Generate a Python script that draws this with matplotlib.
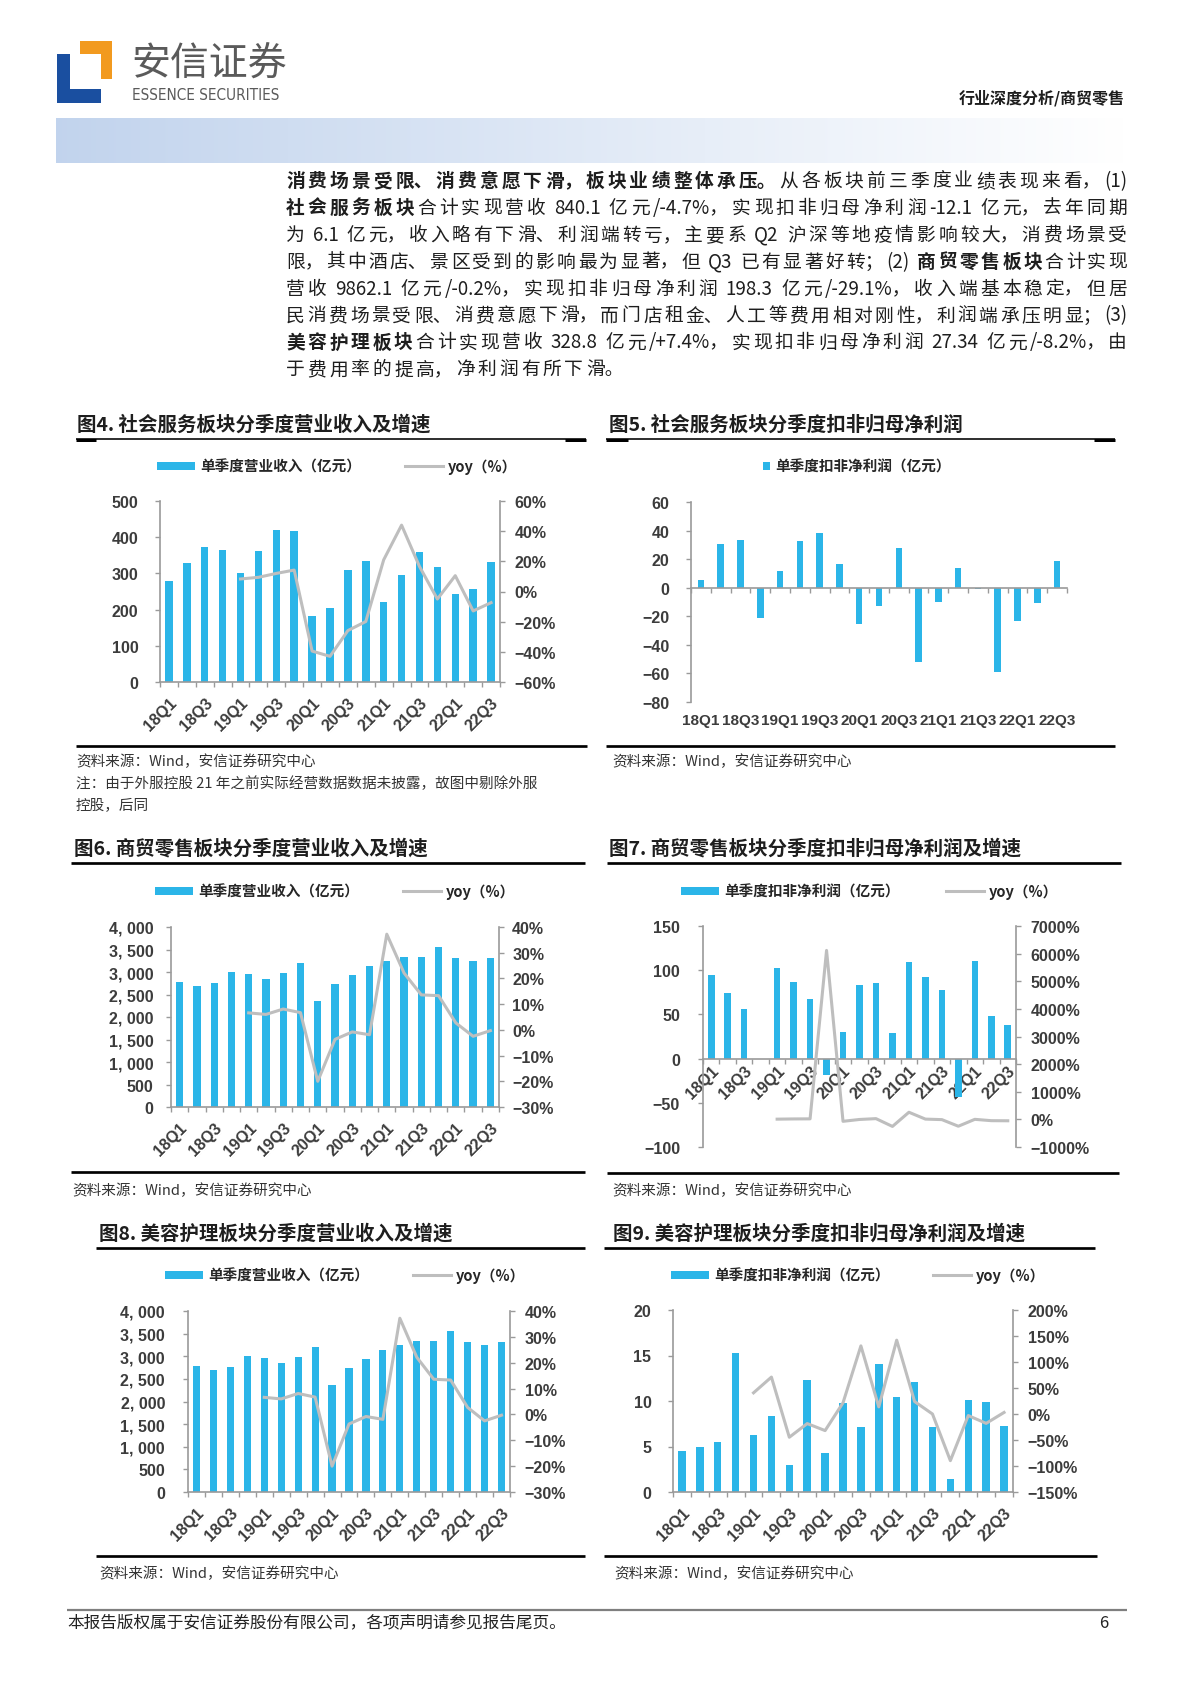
import numpy as np
import matplotlib
matplotlib.use('Agg')
import matplotlib.pyplot as plt
from matplotlib.font_manager import FontProperties
from matplotlib.patches import Polygon

W, H, DPI = 1190, 1683, 100
CJK = ['Noto Sans CJK SC', 'DejaVu Sans']
NUM = ['Liberation Sans', 'DejaVu Sans']
plt.rcParams['font.family'] = CJK
plt.rcParams['axes.unicode_minus'] = True

# ---------------- data ----------------
quarters = ['18Q1', '18Q2', '18Q3', '18Q4', '19Q1', '19Q2', '19Q3', '19Q4',
            '20Q1', '20Q2', '20Q3', '20Q4', '21Q1', '21Q2', '21Q3', '21Q4',
            '22Q1', '22Q2', '22Q3']
nan = np.nan
# Fig4 社会服务 营收 (亿元) and yoy (%)
social_rev = [278, 330, 374, 365, 301, 361, 419, 417, 182, 205, 309, 334,
              221, 296, 359, 317, 243, 257, 332]
social_rev_yoy = [nan, nan, nan, nan, 8.3, 9.4, 12.0, 14.2, -39.5, -43.0, -25.9, -19.9,
                  21.0, 44.0, 16.6, -5.0, 10.5, -12.9, -7.4]
# Fig5 社会服务 扣非净利润 (亿元)
social_np = [5.6, 30.5, 33.3, -21.4, 11.4, 33.0, 38.6, 16.5, -25.1, -12.6, 28.1, -52.1,
             -9.8, 13.7, -0.9, -59.3, -23.3, -10.9, 18.8]
# Fig6 商贸零售 营收
retail_rev = [2778, 2689, 2756, 3007, 2963, 2844, 2978, 3207, 2363, 2733, 2941, 3141,
              3244, 3341, 3333, 3556, 3319, 3252, 3319]
retail_rev_yoy = [nan, nan, nan, nan, 6.6, 6.0, 8.1, 6.7, -20.0, -3.7, -0.8, -1.9,
                  37.2, 22.1, 13.6, 13.3, 2.7, -2.5, -0.3]
# Fig7 商贸零售 扣非净利润
retail_np = [95.0, 74.7, 56.6, 0.0, 102.9, 86.7, 67.5, -18.9, 30.5, 83.7, 85.6, 29.4,
             109.4, 92.0, 78.0, -43.4, 110.9, 48.6, 38.1]
retail_np_yoy = [nan, nan, nan, nan, 8, 16, 19, 6116, -70, -3.5, 27, -255,
                 258, 10, -9, -248, 1.4, -47, -51]
# Fig8 美容护理 营收 (as shown in the source figure)
beauty_rev = [2778, 2689, 2756, 3007, 2963, 2844, 2978, 3207, 2363, 2733, 2941, 3141,
              3244, 3341, 3333, 3556, 3319, 3252, 3319]
beauty_rev_yoy = [nan, nan, nan, nan, 6.6, 6.0, 8.1, 6.7, -20.0, -3.7, -0.8, -1.9,
                  37.2, 22.1, 13.6, 13.3, 2.7, -2.5, -0.3]
# Fig9 美容护理 扣非净利润
beauty_np = [4.5, 4.9, 5.5, 15.3, 6.3, 8.4, 3.0, 12.3, 4.3, 9.8, 7.1, 14.1,
             10.4, 12.1, 7.1, 1.4, 10.1, 9.9, 7.3]
beauty_np_yoy = [nan, nan, nan, nan, 40.7, 71, -44.7, -18.4, -31.9, 21.5, 131, 13.7,
                 142, 24, 0, -89.7, -3, -18, 3]

# ---------------- style ----------------
BAR = '#2BB5E8'
LINE = '#BEBEBE'
GRAY = '#9A9A9A'
TICKC = '#3C3C3C'
TXT = '#1E1E1E'

fig = plt.figure(figsize=(W / DPI, H / DPI), dpi=DPI)
bg = fig.add_axes([0, 0, 1, 1])
bg.axis('off')


def add_ax(l, t, r, b):
    a = fig.add_axes([l / W, 1 - b / H, (r - l) / W, (b - t) / H])
    a.set_facecolor('none')
    return a


numfont = dict(fontfamily=NUM, fontweight='bold', fontsize=11.5, color=TICKC)


def fmt_num(v, thousands=False):
    s = f'{v:,}'.replace(',', ', ') if thousands else f'{v}'
    return s.replace('-', '\u2212')


def fmt_pct(v):
    return f'{v}%'.replace('-', '\u2212')


def base_axes(box, values, ylim, yticks, lpad, thousands=False, zero_spine=False, width=0.42):
    ax = add_ax(*box)
    n = len(quarters)
    x = np.arange(n)
    bars = ax.bar(x, values, width=width, color=BAR, zorder=2)
    ax.set_xlim(-0.5, n - 0.5)
    ax.set_ylim(*ylim)
    ax.set_yticks(yticks, labels=[fmt_num(v, thousands) for v in yticks], **numfont)
    ax.set_xticks(np.arange(-0.5, n, 1.0), minor=True)
    for s in ['top', 'right']:
        ax.spines[s].set_visible(False)
    for s in ['left', 'bottom']:
        ax.spines[s].set_color(GRAY)
        ax.spines[s].set_linewidth(1.2)
    if zero_spine:
        ax.spines['bottom'].set_position(('data', 0))
    ax.tick_params(axis='y', direction='out', length=3.5, width=1, color=GRAY, pad=lpad)
    ax.tick_params(axis='x', which='minor', direction='out', length=3.5, width=1, color=GRAY)
    ax.tick_params(axis='x', which='major', length=0)
    return ax, bars


def rot_labels(ax, pad):
    idx = np.arange(0, len(quarters), 2)
    ax.set_xticks(idx, labels=[quarters[i] for i in idx], rotation=45, ha='right',
                  va='top', rotation_mode='anchor', **numfont)
    ax.tick_params(axis='x', which='major', length=0, pad=pad)


def yoy_axis(ax, vals, ylim, yticks, rpad):
    ax2 = ax.twinx()
    ax2.set_facecolor('none')
    ln, = ax2.plot(np.arange(len(quarters)), vals, color=LINE, lw=2.2, zorder=3)
    ax2.set_ylim(*ylim)
    ax2.set_yticks(yticks, labels=[fmt_pct(v) for v in yticks], **numfont)
    for s in ['top', 'left', 'bottom']:
        ax2.spines[s].set_visible(False)
    ax2.spines['right'].set_color(GRAY)
    ax2.spines['right'].set_linewidth(1.2)
    ax2.tick_params(axis='y', direction='out', length=3.5, width=1, color=GRAY, pad=rpad)
    return ax2, ln


legfont = FontProperties(family=CJK, weight='bold', size=10.5)


def legend(ax, handles, labels, x, y, colsp=3.0, hl=2.6, hh=0.5):
    ax.legend(handles, labels, loc='center left', bbox_to_anchor=(x / W, 1 - y / H),
              bbox_transform=fig.transFigure, ncol=len(handles), frameon=False,
              prop=legfont, handlelength=hl, handleheight=hh, handletextpad=0.35,
              columnspacing=colsp, borderpad=0, borderaxespad=0, labelcolor='#262626')


LAB_REV = '单季度营业收入（亿元）'
LAB_NP = '单季度扣非净利润（亿元）'
LAB_YOY = 'yoy（%）'

# ---------- Fig 4 ----------
ax4, b4 = base_axes((160, 502, 500, 683), social_rev, (0, 500), list(range(0, 501, 100)), 12)
rot_labels(ax4, 9)
ax4b, l4 = yoy_axis(ax4, social_rev_yoy, (-60, 60), list(range(-60, 61, 20)), 7)
legend(ax4, [b4, l4], [LAB_REV, LAB_YOY], 157, 467)

# ---------- Fig 5 ----------
ax5, b5 = base_axes((691, 503, 1067, 703), social_np, (-80, 60), list(range(-80, 61, 20)), 12,
                    zero_spine=True, width=0.33)
ax5.set_xticks([])
sec = ax5.secondary_xaxis('bottom')
idx5 = np.arange(0, len(quarters), 2)
sec.set_ticks(idx5, labels=[quarters[i] for i in idx5], fontfamily=NUM, fontweight='bold',
              fontsize=11, color=TICKC)
sec.tick_params(axis='x', length=0, pad=8)
sec.spines['bottom'].set_visible(False)
legend(ax5, [b5], ['单季度扣非净利润（亿元）'], 763, 467, hl=0.5, hh=0.5)

# ---------- Fig 6 ----------
ax6, b6 = base_axes((171, 928, 499, 1108), retail_rev, (0, 4000), list(range(0, 4001, 500)), 9,
                    thousands=True)
rot_labels(ax6, 9)
ax6b, l6 = yoy_axis(ax6, retail_rev_yoy, (-30, 40), list(range(-30, 41, 10)), 6)
legend(ax6, [b6, l6], [LAB_REV, LAB_YOY], 155, 892)

# ---------- Fig 7 ----------
ax7, b7 = base_axes((703, 927, 1016, 1148), retail_np, (-100, 150), list(range(-100, 151, 50)), 13,
                    zero_spine=True, width=0.4)
rot_labels(ax7, 3)
ax7b, l7 = yoy_axis(ax7, retail_np_yoy, (-1000, 7000), list(range(-1000, 7001, 1000)), 7)
legend(ax7, [b7, l7], [LAB_NP, LAB_YOY], 681, 892, colsp=3.2)

# ---------- Fig 8 ----------
ax8, b8 = base_axes((188, 1312, 510, 1493), beauty_rev, (0, 4000), list(range(0, 4001, 500)), 13,
                    thousands=True)
rot_labels(ax8, 9)
ax8b, l8 = yoy_axis(ax8, beauty_rev_yoy, (-30, 40), list(range(-30, 41, 10)), 7)
legend(ax8, [b8, l8], [LAB_REV, LAB_YOY], 165, 1276)

# ---------- Fig 9 ----------
ax9, b9 = base_axes((673, 1311, 1013, 1493), beauty_np, (0, 20), list(range(0, 21, 5)), 12)
rot_labels(ax9, 9)
ax9b, l9 = yoy_axis(ax9, beauty_np_yoy, (-150, 200), list(range(-150, 201, 50)), 7)
legend(ax9, [b9, l9], [LAB_NP, LAB_YOY], 671, 1276, colsp=3.0)

# ---------------- page decoration ----------------
# gradient band
grad = np.linspace(0, 1, 256)
c0 = np.array([0.76, 0.83, 0.93])
img = (c0[None, None, :] * (1 - grad)[None, :, None] + np.ones(3)[None, None, :] * grad[None, :, None])
bg.imshow(img, extent=[56, 1125, 164, 119], aspect='auto', interpolation='bilinear', zorder=0)

# logo
bg.add_patch(Polygon([(57, 55), (70, 55), (70, 90), (101, 90), (101, 104), (57, 104)],
                     closed=True, color='#1A4FA0', lw=0))
bg.add_patch(Polygon([(80, 42), (112, 42), (112, 80), (101, 80), (101, 55), (80, 55)],
                     closed=True, color='#F29A1F', lw=0))
bg.text(131, 65, '安信证券', fontsize=28, color='#5A5A5A', va='center', ha='left',
        family=CJK)
bg.text(132, 96, 'ESSENCE SECURITIES', fontsize=11, color='#5A5A5A', va='center', ha='left',
        family=['Liberation Sans Narrow', 'DejaVu Sans'], fontstretch='condensed')
bg.text(1125, 98, '行业深度分析/商贸零售', fontsize=11.5, fontweight='bold', color=TXT,
        va='center', ha='right', family=CJK)

# paragraph with justification
para = [
    [('消费场景受限、消费意愿下滑，板块业绩整体承压。', True), ('从各板块前三季度业绩表现来看，(1)', False)],
    [('社会服务板块', True), ('合计实现营收 840.1 亿元/-4.7%，实现扣非归母净利润-12.1 亿元，去年同期', False)],
    [('为 6.1 亿元，收入略有下滑、利润端转亏，主要系 Q2 沪深等地疫情影响较大，消费场景受', False)],
    [('限，其中酒店、景区受到的影响最为显著，但 Q3 已有显著好转；(2) ', False), ('商贸零售板块', True), ('合计实现', False)],
    [('营收 9862.1 亿元/-0.2%，实现扣非归母净利润 198.3 亿元/-29.1%，收入端基本稳定，但居', False)],
    [('民消费场景受限、消费意愿下滑，而门店租金、人工等费用相对刚性，利润端承压明显；(3)', False)],
    [('美容护理板块', True), ('合计实现营收 328.8 亿元/+7.4%，实现扣非归母净利润 27.34 亿元/-8.2%，由', False)],
    [('于费用率的提高，净利润有所下滑。', False)],
]
PUNCT = '，、。；：）'


def tokenize(segs):
    toks = []
    cur = None
    space = False
    for s, b in segs:
        for c in s:
            if c == ' ':
                if cur:
                    toks.append(cur)
                    cur = None
                space = True
            elif c in PUNCT:
                if cur is not None:
                    cur[0] += c
                    toks.append(cur)
                    cur = None
                elif toks:
                    toks[-1][0] += c
                else:
                    toks.append([c, b, space, False])
                    space = False
            elif ord(c) < 128:
                if cur is not None and cur[3] and cur[1] == b:
                    cur[0] += c
                else:
                    if cur:
                        toks.append(cur)
                    cur = [c, b, space, True]
                    space = False
            else:
                if cur:
                    toks.append(cur)
                cur = [c, b, space, False]
                space = False
        if cur:
            toks.append(cur)
            cur = None
    return toks


PSIZE = 13.5
fp_r = FontProperties(family=CJK, size=PSIZE)
fp_b = FontProperties(family=CJK, size=PSIZE, weight='bold')
renderer = fig.canvas.get_renderer()
SPACE_W = 0.28 * PSIZE * DPI / 72
P_LEFT, P_RIGHT = 286, 1127
gaps = []
for i, segs in enumerate(para):
    toks = tokenize(segs)
    widths = [renderer.get_text_width_height_descent(t[0], fp_b if t[1] else fp_r, ismath=False)[0]
              for t in toks]
    nsp = sum(1 for k, t in enumerate(toks) if t[2] and k > 0)
    if i < len(para) - 1:
        gap = (P_RIGHT - P_LEFT - sum(widths) - nsp * SPACE_W) / (len(toks) - 1)
        gaps.append(gap)
    else:
        gap = float(np.mean(gaps))
    yb = 180 + 26.9 * i + 7
    x = P_LEFT
    for k, (t, w) in enumerate(zip(toks, widths)):
        if t[2] and k > 0:
            x += SPACE_W
        bg.text(x, yb, t[0], fontproperties=fp_b if t[1] else fp_r, color=TXT,
                ha='left', va='baseline')
        x += w + gap

# chart titles
titles = [
    (77, 425, '图4. 社会服务板块分季度营业收入及增速'),
    (609, 425, '图5. 社会服务板块分季度扣非归母净利润'),
    (74, 849, '图6. 商贸零售板块分季度营业收入及增速'),
    (609, 849, '图7. 商贸零售板块分季度扣非归母净利润及增速'),
    (99, 1234, '图8. 美容护理板块分季度营业收入及增速'),
    (613, 1234, '图9. 美容护理板块分季度扣非归母净利润及增速'),
]
for x, y, t in titles:
    bg.text(x, y, t, fontsize=14, fontweight='bold', color=TXT, ha='left', va='center', family=CJK)


def hline(x0, x1, y, px, color='black'):
    bg.plot([x0, x1], [y, y], color=color, lw=px * 0.72, solid_capstyle='butt')


# title underlines
hline(76, 586, 440, 1.6)
hline(76, 96, 440.6, 3)
hline(565, 586, 440.6, 3)
hline(606, 1115, 440, 1.6)
hline(606, 628, 440.6, 3)
hline(1094, 1115, 440.6, 3)
hline(71, 585, 864, 2.7)
hline(607, 1121, 864, 2.7)
hline(96, 585, 1249, 2.7)
hline(604, 1095, 1249, 2.7)
# bottom rules
hline(76, 587, 747, 2.7)
hline(606, 1115, 747, 2.7)
hline(71, 585, 1173, 2.7)
hline(607, 1119, 1174, 2.7)
hline(96, 585, 1557, 2.7)
hline(604, 1097, 1557, 2.7)

# sources
SRC = '资料来源：Wind，安信证券研究中心'
srcs = [(76, 762, SRC), (76, 784, '注：由于外服控股 21 年之前实际经营数据数据未披露，故图中剔除外服'),
        (76, 806, '控股，后同'), (612, 762, SRC), (72, 1191, SRC), (612, 1191, SRC),
        (99, 1574, SRC), (614, 1574, SRC)]
for x, y, t in srcs:
    bg.text(x, y, t, fontsize=10.5, color='#333333', ha='left', va='center', family=CJK,
            style='italic')

# footer
hline(67, 1127, 1611, 2.2, color='#7F7F7F')
bg.text(67, 1624, '本报告版权属于安信证券股份有限公司，各项声明请参见报告尾页。', fontsize=12,
        color='#222222', ha='left', va='center', family=CJK)
bg.text(1104, 1624, '6', fontsize=12, color='#222222', ha='center', va='center', family=CJK)

bg.set_xlim(0, W)
bg.set_ylim(H, 0)

fig.savefig('out.png', dpi=DPI)
